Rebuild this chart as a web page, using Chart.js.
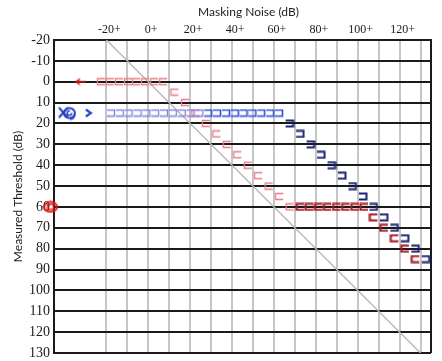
<!DOCTYPE html>
<html><head><meta charset="utf-8">
<script src="https://cdn.jsdelivr.net/npm/chart.js@4.4.1/dist/chart.umd.min.js"></script>
<style>html,body{margin:0;padding:0;background:#fff;}</style>
</head><body>
<canvas id="c" width="442" height="361"></canvas>
<script>
// ---- axes ----
const xTickValues = [-20,-10,0,10,20,30,40,50,60,70,80,90,100,110,120,130,135];
const xTickLabels = ['-20+','','0+','','20+','','40+','','60+','','80+','','100+','','120+','',''];
const yTickValues = [-20,-10,0,10,20,30,40,50,60,70,80,90,100,110,120,130];
const yTickLabels = ['-20','-10','0','10','20','30','40','50','60','70','80','90','100','110','120','130'];

// ---- right ear, masked (red "[") light ----
const redLightMask = [-22.6,-18.3,-14,-9.7,-5.8,-1.5,2.8,7.1,12.5,17.5,22.5,27.5,32.5,37.5,42.5,47.5,52.5,57.5,62.5,67.5];
const redLightThr  = [0,0,0,0,0,0,0,0,5,10,15,20,25,30,35,40,45,50,55,60];
// ---- right ear, masked (red "[") dark ----
const redDarkMask = [72.5,76.8,81.2,85.5,89.9,94.2,98.6,103,107.5,112.5,117.5,122.5,127.5];
const redDarkThr  = [60,60,60,60,60,60,60,60,65,70,75,80,85];
// ---- left ear, masked (blue "]") ----
const blueLightMask = [-17.8,-13.6,-9.4,-5.1,-0.9,3.3,7.5,11.7,16,20.2,24.4];
const blueLightThr  = [15,15,15,15,15,15,15,15,15,15,15];
const blueMidMask = [28.6,32.8,37.1,41.3,45.5,49.7,53.9,58.2,62.4];
const blueMidThr  = [15,15,15,15,15,15,15,15,15];
const blueDarkMask = [67.5,72.5,77.5,82.5,87.5,92.5,97.5,102.5,107.5,112.5,117.5,122.5,127.5,132.5];
const blueDarkThr  = [20,25,30,35,40,45,50,55,60,65,70,75,80,85];
// ---- unmasked symbols ----
const symbolNames = ['rightUnmasked','rightArrow','leftUnmasked','leftArrow'];
const symbolMask  = [-46.7,-32.4,-38.4,-28.6];
const symbolThr   = [60,0,15,15];
// ---- diagonal ----
const diagMask = [-20,130];
const diagThr  = [-20,130];

function pts(xs, ys){ return xs.map((x,i)=>({x:x, y:ys[i]})); }

function bracket(color, lw, dir){
  const c = document.createElement('canvas'); c.width = 10; c.height = 9;
  const g = c.getContext('2d'); g.strokeStyle = color; g.lineWidth = lw; g.lineJoin='miter';
  g.beginPath();
  if (dir === 'L'){ g.moveTo(9,1.5); g.lineTo(1.5,1.5); g.lineTo(1.5,7.5); g.lineTo(9,7.5); }
  else { g.moveTo(1,1.5); g.lineTo(8.5,1.5); g.lineTo(8.5,7.5); g.lineTo(1,7.5); }
  g.stroke(); return c;
}
function symbol(name){
  const c = document.createElement('canvas');
  const g = c.getContext('2d');
  if (name === 'rightArrow'){
    c.width = 12; c.height = 10; g.strokeStyle = '#c41a1a'; g.fillStyle='#c41a1a'; g.lineWidth = 1.8;
    g.beginPath(); g.moveTo(4,5); g.lineTo(11.5,5); g.stroke();
    g.beginPath(); g.moveTo(0.5,5); g.lineTo(6,0.8); g.lineTo(4.2,5); g.lineTo(6,9.2); g.closePath(); g.fill();
  } else if (name === 'leftArrow'){
    c.width = 9; c.height = 10; g.strokeStyle = '#2b48c8'; g.lineWidth = 2.2;
    g.beginPath(); g.moveTo(2,1.5); g.lineTo(7,5); g.lineTo(2,8.5); g.stroke();
  } else if (name === 'leftUnmasked'){
    c.width = 20; c.height = 15; g.strokeStyle = '#2140c4'; g.lineWidth = 2;
    g.beginPath(); g.moveTo(1,2); g.lineTo(10,12); g.moveTo(10,2); g.lineTo(1,12); g.stroke();
    g.beginPath(); g.ellipse(11.5,7.5,5.5,5,0,0,Math.PI*2); g.stroke();
    g.lineWidth = 1.6;
    g.beginPath(); g.arc(11.5,7.5,2.2,0,Math.PI*1.6); g.stroke();
    g.beginPath(); g.moveTo(17,8.5); g.quadraticCurveTo(16.5,14,12,13.5); g.stroke();
  } else {
    c.width = 16; c.height = 13; g.strokeStyle = '#e01818'; g.lineWidth = 2;
    g.beginPath(); g.ellipse(8,6.5,6.5,5,0,0,Math.PI*2); g.stroke();
    g.lineWidth = 1.4;
    g.beginPath(); g.moveTo(8,4); g.lineTo(5,4); g.lineTo(5,9); g.lineTo(8,9); g.stroke();
    g.beginPath(); g.moveTo(8,4); g.lineTo(11,4); g.lineTo(11,9); g.lineTo(8,9); g.stroke();
  }
  return c;
}

const pinkL = bracket('#e97c88', 1.3, 'L');
const redL  = bracket('#a81822', 2, 'L');
const lavR  = bracket('#8080e4', 1.3, 'R');
const blueR = bracket('#2c4fd6', 1.6, 'R');
const navyR = bracket('#1c2474', 2, 'R');

function markerSet(data, style, order){
  return { type:'scatter', data:data, pointStyle:style, pointRadius:4, pointHoverRadius:4, showLine:false, order:order, clip:false };
}

const datasets = [
  { type:'line', data: pts(diagMask, diagThr), borderColor:'#b8b8b8', borderWidth:1.4, pointRadius:0, fill:false, order:20 },
  markerSet(pts(redLightMask, redLightThr), pinkL, 6),
  markerSet(pts(blueLightMask, blueLightThr), lavR, 5),
  markerSet(pts(blueMidMask, blueMidThr), blueR, 4),
  markerSet(pts(redDarkMask, redDarkThr), redL, 3),
  markerSet(pts(blueDarkMask, blueDarkThr), navyR, 2),
  { type:'scatter', data: pts(symbolMask, symbolThr), pointStyle: symbolNames.map(symbol), pointRadius:5, showLine:false, order:1, clip:false }
];

new Chart(document.getElementById('c'), {
  type: 'scatter',
  data: { datasets: datasets },
  options: {
    responsive:false, animation:false, devicePixelRatio:1,
    layout:{ padding:{ left:0, right:11, top:0, bottom:8 } },
    plugins:{ legend:{display:false}, tooltip:{enabled:false} },
    scales:{
      x:{
        type:'linear', position:'top', min:-45, max:135, z:-1,
        afterBuildTicks: s => { s.ticks = xTickValues.map(v=>({value:v})); },
        afterFit: s => { s.height = 40; s.paddingLeft = 0; s.paddingRight = 0; },
        ticks:{ autoSkip:false, maxRotation:0, padding:3, labelOffset:3, color:'#1a1a1a',
          font:{ family:'Liberation Serif', size:12 },
          callback:(v,i)=> xTickLabels[i] },
        grid:{ drawTicks:false, lineWidth:2, color: c => (c.tick && c.tick.value === 135) ? '#1a1a1a' : '#c6c6c6' },
        border:{ display:true, color:'#1a1a1a', width:2 },
        title:{ display:true, text:'\u2002\u2002Masking Noise (dB)', color:'#222', font:{ family:'Lato', size:12 }, padding:{ top:5, bottom:0 } }
      },
      y:{
        type:'linear', position:'left', reverse:true, min:-20, max:130,
        afterBuildTicks: s => { s.ticks = yTickValues.map(v=>({value:v})); },
        afterFit: s => { s.width = 54; s.paddingTop = 0; s.paddingBottom = 0; },
        ticks:{ autoSkip:false, padding:4, color:'#1a1a1a', font:{ family:'Liberation Serif', size:14 },
          callback:(v,i)=> yTickLabels[i] },
        grid:{ drawTicks:false, lineWidth:2, color:'#1a1a1a' },
        border:{ display:true, color:'#1a1a1a', width:2 },
        title:{ display:true, text:'Measured Threshold (dB)', color:'#222', font:{ family:'Lato', size:12 }, padding:{ top:11, bottom:0 } }
      }
    }
  }
});
</script>
</body></html>
